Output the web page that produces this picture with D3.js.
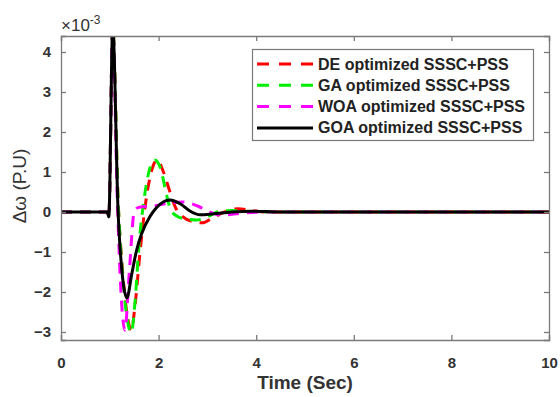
<!DOCTYPE html>
<html><head><meta charset="utf-8">
<script src="https://cdn.jsdelivr.net/npm/d3@7"></script>
<style>body{margin:0;background:#fff}svg{display:block}text{font-family:"Liberation Sans",Arial,sans-serif}</style>
</head><body><svg id="c" width="560" height="397"></svg>
<script>
const xTicks=[0,2,4,6,8,10];
const yTicks=[-3,-2,-1,0,1,2,3,4];
const seriesNames=["DE optimized SSSC+PSS","GA optimized SSSC+PSS","WOA optimized SSSC+PSS","GOA optimized SSSC+PSS"];
const seriesColors=["#ff0000","#00ee00","#ff00ff","#000000"];
// values in units of 1e-3
const deT=[0,0.95,0.98,1.06,1.17,1.27,1.36,1.44,1.52,1.62,1.72,1.83,1.97,2.1,2.22,2.35,2.5,2.7,2.9,3.1,3.35,3.63,3.9,4.2,5,10];
const deV=[0,0,-0.12,4.6,0.3,-1.6,-2.6,-2.95,-2.3,-1.0,0.1,0.9,1.3,1.0,0.55,0.1,-0.12,-0.24,-0.27,-0.15,0.0,0.08,0.04,0,0,0];
const gaT=[0,0.95,0.98,1.06,1.17,1.27,1.36,1.44,1.52,1.6,1.7,1.8,1.92,2.05,2.15,2.25,2.4,2.6,2.78,3.0,3.2,3.5,3.9,5,10];
const gaV=[0,0,-0.12,4.6,0.3,-1.7,-2.7,-3.02,-2.2,-0.8,0.3,1.0,1.3,1.05,0.5,0.05,-0.12,-0.18,-0.2,-0.12,0.0,0.04,0,0,0];
const woaT=[0,0.95,0.98,1.06,1.15,1.22,1.31,1.4,1.5,1.6,1.9,2.2,2.5,2.8,3.05,3.3,3.7,4.2,5,10];
const woaV=[0,0,-0.12,4.6,0.5,-1.8,-2.95,-1.5,0.0,0.12,0.15,0.22,0.25,0.15,0.0,-0.08,-0.03,0,0,0];
const goaT=[0,0.95,0.98,1.06,1.17,1.25,1.35,1.45,1.55,1.65,1.82,1.95,2.23,2.45,2.65,2.85,3.1,3.5,3.9,4.5,10];
const goaV=[0,0,-0.12,4.6,0.0,-1.5,-2.15,-1.55,-0.95,-0.55,-0.12,0.1,0.3,0.2,0.02,-0.07,-0.05,0,0.02,0,0];
const seriesT=[deT,gaT,woaT,goaT];
const seriesV=[deV,gaV,woaV,goaV];

const svg=d3.select("#c");
const L=61,R=549,T=36,B=340;
const x=d3.scaleLinear().domain([0,10]).range([L,R]);
const y=d3.scaleLinear().domain([-3.2,4.4]).range([B,T]);
const axisCol="#7a7a7a", textCol="#333";

svg.append("defs").append("clipPath").attr("id","clip").append("rect").attr("x",L).attr("y",T).attr("width",R-L).attr("height",B-T);

const line=d3.line().x(d=>x(d[0])).y(d=>y(d[1])).curve(d3.curveMonotoneX);
const g=svg.append("g").attr("clip-path","url(#clip)");
[0,1,2,3].forEach(i=>{
  const pts=seriesT[i].map((t,j)=>[t,seriesV[i][j]]);
  g.append("path").attr("d",line(pts)).attr("fill","none").attr("stroke",seriesColors[i])
   .attr("stroke-width",3).attr("stroke-dasharray",i<3?"11,8":null).attr("stroke-linejoin","round");
});

// axes (ticks inside, box)
const xa=d3.axisBottom(x).tickValues(xTicks).tickSize(-5).tickPadding(17).tickFormat(d3.format("d"));
const xt=d3.axisTop(x).tickValues(xTicks).tickSize(-5).tickFormat("");
const ya=d3.axisLeft(y).tickValues(yTicks).tickSize(-5).tickPadding(10).tickFormat(d3.format("d"));
const yr=d3.axisRight(y).tickValues(yTicks).tickSize(-5).tickFormat("");
function style(sel){sel.selectAll("path,line").attr("stroke",axisCol).attr("stroke-width",1.3);
  sel.selectAll("text").attr("fill",textCol).attr("font-size",15).attr("font-weight","bold").attr("font-family","Liberation Sans, Arial, sans-serif");}
svg.append("g").attr("transform",`translate(0,${B})`).call(xa).call(style);
svg.append("g").attr("transform",`translate(0,${T})`).call(xt).call(style);
svg.append("g").attr("transform",`translate(${L},0)`).call(ya).call(style);
svg.append("g").attr("transform",`translate(${R},0)`).call(yr).call(style);
svg.selectAll(".domain").attr("stroke",axisCol);

// exponent label
const ex=svg.append("text").attr("x",61).attr("y",31).attr("fill",textCol).attr("font-size",17);
ex.append("tspan").text("\u00d710");
ex.append("tspan").attr("dy",-7).attr("font-size",12).text("-3");

svg.append("text").attr("x",(L+R)/2).attr("y",389).attr("text-anchor","middle").attr("fill",textCol)
  .attr("font-size",19).attr("font-weight","bold").text("Time (Sec)");
svg.append("text").attr("transform","translate(26,186) rotate(-90)").attr("text-anchor","middle").attr("fill",textCol)
  .attr("font-size",19).text("\u0394\u03c9 (P.U)");

// legend
const lg=svg.append("g");
lg.append("rect").attr("x",252.5).attr("y",49.5).attr("width",281).attr("height",91).attr("fill","#fff").attr("stroke",axisCol).attr("stroke-width",1.2);
seriesNames.forEach((n,i)=>{
  const yy=64+i*21.3;
  lg.append("line").attr("x1",257).attr("x2",313).attr("y1",yy).attr("y2",yy).attr("stroke",seriesColors[i])
    .attr("stroke-width",3).attr("stroke-dasharray",i<3?"12,10":null);
  lg.append("text").attr("x",318).attr("y",yy+5.5).attr("fill","#222").attr("font-size",16).attr("font-weight","bold").text(n);
});
</script></body></html>
